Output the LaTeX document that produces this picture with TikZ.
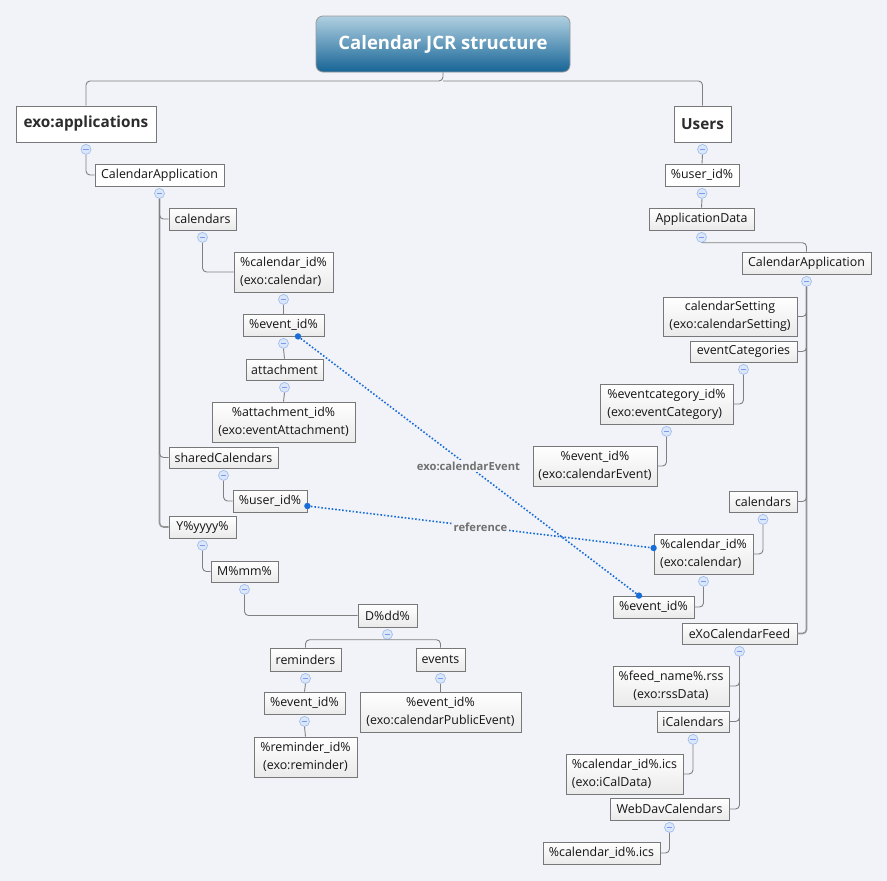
\documentclass[tikz,border=0pt]{standalone}
\usepackage{fontspec}
\setmainfont{Open Sans}
\usetikzlibrary{calc}

\definecolor{bg}{RGB}{242,243,248}
\definecolor{edge}{RGB}{128,128,128}
\definecolor{trunkgray}{RGB}{150,150,150}
\definecolor{boxline}{RGB}{120,120,120}
\definecolor{boxlow}{RGB}{234,234,234}
\definecolor{ink}{RGB}{20,20,20}
\definecolor{linkblue}{RGB}{24,110,214}
\definecolor{lblgray}{RGB}{112,112,112}
\definecolor{mkfill}{RGB}{218,231,250}
\definecolor{mkline}{RGB}{160,190,235}
\definecolor{titletop}{RGB}{176,208,225}
\definecolor{titlelow}{RGB}{22,100,150}

\newcommand{\nf}{\fontsize{12.4}{18}\selectfont}

\begin{document}
\begin{tikzpicture}[x=1pt,y=-1pt,
  box/.style={draw=boxline, line width=0.8pt, inner sep=0pt, text=ink, font=\nf},
  gbox/.style={box, top color=white, bottom color=boxlow},
  wbox/.style={box, fill=white},
  topic/.style={box, fill=white, font=\fontsize{15.3}{18}\selectfont\bfseries, text=ink!90},
  sz/.style 2 args={minimum width=#1pt, minimum height=#2pt},
  conn/.style={draw=edge, line width=0.9pt, rounded corners=4pt},
  trunk/.style={draw=trunkgray, line width=1.6pt, rounded corners=4pt},
  mk/.style={circle, inner sep=0pt, minimum size=10pt, fill=mkfill, draw=mkline, line width=0.7pt,
    path picture={\draw[mkline!80!blue, line width=0.8pt]
      ([xshift=-2.6pt]path picture bounding box.center) -- ([xshift=2.6pt]path picture bounding box.center);}},
  rel/.style={draw=linkblue, line width=1.6pt, dash pattern=on 1.6pt off 1.9pt},
  lbl/.style={fill=bg, inner sep=1.5pt, text=lblgray, font=\fontsize{11.2}{13}\selectfont\bfseries},
  tip/.style={fill=linkblue}
]
\path[use as bounding box, fill=bg] (0,0) rectangle (887,881);

% ---------- central topic ----------
\node[draw=gray!80, line width=0.8pt, rounded corners=7pt, top color=titletop, bottom color=titlelow,
  minimum width=254pt, minimum height=56pt, text=white,
  font=\fontsize{18.5}{22}\selectfont\bfseries] (title) at (443,44) {Calendar JCR structure};

% ---------- main branches ----------
\node[topic, sz={140}{36}] (exoapp) at (86,124) {exo:applications};
\node[topic, sz={57}{36}] (users) at (702.5,124) {Users};

% ---------- exo:applications subtree ----------
\node[wbox, sz={129}{22}] (calappL) at (159.5,175) {CalendarApplication};
\node[gbox, sz={67}{22}] (calsL) at (202.5,219) {calendars};
\node[gbox, sz={99}{40}, align=left] (calidL) at (283.5,272) {\%calendar\_id\%\\(exo:calendar)};
\node[gbox, sz={81}{22}] (evL) at (283.5,325) {\%event\_id\%};
\node[gbox, sz={77}{21}] (att) at (284.5,369.5) {attachment};
\node[gbox, sz={143}{40}, align=center] (attid) at (283.5,422) {\%attachment\_id\%\\(exo:eventAttachment)};
\node[gbox, sz={109}{21}] (shared) at (223.5,457.5) {sharedCalendars};
\node[gbox, sz={74}{22}] (usrL) at (270,501) {\%user\_id\%};
\node[gbox, sz={67}{22}] (yyyy) at (202.5,527) {Y\%yyyy\%};
\node[gbox, sz={67}{21}] (mm) at (244.5,571.5) {M\%mm\%};
\node[gbox, sz={59}{23}] (dd) at (387.5,615.5) {D\%dd\%};
\node[gbox, sz={71}{23}] (rem) at (305.5,659.5) {reminders};
\node[gbox, sz={49}{23}] (events) at (440.5,659.5) {events};
\node[gbox, sz={81}{22}] (evRem) at (304.5,703) {\%event\_id\%};
\node[gbox, sz={103}{40}, align=center] (remid) at (305.5,757) {\%reminder\_id\%\\(exo:reminder)};
\node[gbox, sz={161}{40}, align=center] (evPub) at (440.5,712) {\%event\_id\%\\(exo:calendarPublicEvent)};

% ---------- Users subtree ----------
\node[wbox, sz={74}{22}] (usrR) at (702,175) {\%user\_id\%};
\node[gbox, sz={105}{22}] (appdata) at (701.5,219) {ApplicationData};
\node[gbox, sz={129}{22}] (calappR) at (806.5,263) {CalendarApplication};
\node[gbox, sz={134}{39}, align=center] (calset) at (730,316.5) {calendarSetting\\(exo:calendarSetting)};
\node[gbox, sz={107}{21}] (evcats) at (743.5,351.5) {eventCategories};
\node[gbox, sz={133}{40}, align=left] (evcatid) at (666.5,404) {\%eventcategory\_id\%\\(exo:eventCategory)};
\node[gbox, sz={124}{40}, align=center] (evCal) at (595,466) {\%event\_id\%\\(exo:calendarEvent)};
\node[gbox, sz={68}{21}] (calsR) at (763,501.5) {calendars};
\node[gbox, sz={99}{40}, align=left] (calidR) at (703.5,554) {\%calendar\_id\%\\(exo:calendar)};
\node[gbox, sz={81}{22}] (evR) at (653.5,607) {\%event\_id\%};
\node[gbox, sz={115}{21}] (feed) at (739.5,633.5) {eXoCalendarFeed};
\node[gbox, sz={116}{40}, align=center] (feedname) at (671,686) {\%feed\_name\%.rss\\(exo:rssData)};
\node[gbox, sz={72}{21}] (ical) at (693,721.5) {iCalendars};
\node[gbox, sz={117}{40}, align=left] (icsdata) at (624.5,774) {\%calendar\_id\%.ics\\(exo:iCalData)};
\node[gbox, sz={119}{22}] (webdav) at (669.5,809) {WebDavCalendars};
\node[gbox, sz={117}{22}] (ics) at (601.5,853) {\%calendar\_id\%.ics};

% ---------- connectors from the central topic ----------
\coordinate (tj) at (443,81);
\draw[conn] (title.south) -- (tj) -| (exoapp.north);
\draw[conn] (tj) -| (users.north);

% ---------- collapse markers ----------
\foreach \n in {exoapp,calappL,calsL,calidL,evL,att,shared,yyyy,mm,dd,rem,events,evRem,
                users,usrR,appdata,calappR,evcats,evcatid,calsR,calidR,feed,ical,webdav}
  \node[mk] (m-\n) at ([yshift=-7pt]\n.south) {};

% ---------- left tree connectors ----------
\draw[conn] (m-exoapp.south) |- (calappL.west);
\draw[trunk] (m-calappL.south) |- (yyyy.west);
\draw[conn] (m-calappL.south) |- (calsL.west);
\draw[conn] (m-calappL.south) |- (shared.west);
\draw[conn] (m-calsL.south) |- (calidL.west);
\draw[conn] (m-calidL.south) -- (evL.north);
\draw[conn] (m-evL.south) -- (att.north);
\draw[conn] (m-att.south) -- (attid.north);
\draw[conn] (m-shared.south) |- (usrL.west);
\draw[conn] (m-yyyy.south) |- (mm.west);
\draw[conn] (m-mm.south) |- (dd.west);
\draw[conn] (m-dd.south) -| (rem.north);
\draw[conn] (m-dd.south) -| (events.north);
\draw[conn] (m-rem.south) -- (evRem.north);
\draw[conn] (m-evRem.south) -- (remid.north);
\draw[conn] (m-events.south) -- (evPub.north);

% ---------- right tree connectors ----------
\draw[conn] (m-users.south) -- (usrR.north);
\draw[conn] (m-usrR.south) -- (appdata.north);
\draw[conn] (m-appdata.south) -| (calappR.north);
\draw[trunk] (m-calappR.south) |- (feed.east);
\draw[conn] (m-calappR.south) |- (calset.east);
\draw[conn] (m-calappR.south) |- (evcats.east);
\draw[conn] (m-calappR.south) |- (calsR.east);
\draw[conn] (m-evcats.south) |- (evcatid.east);
\draw[conn] (m-evcatid.south) |- (evCal.east);
\draw[conn] (m-calsR.south) |- (calidR.east);
\draw[conn] (m-calidR.south) |- (evR.east);
\draw[conn] (m-feed.south) |- (webdav.east);
\draw[conn] (m-feed.south) |- (feedname.east);
\draw[conn] (m-feed.south) |- (ical.east);
\draw[conn] (m-ical.south) |- (icsdata.east);
\draw[conn] (m-webdav.south) |- (ics.east);

% ---------- relationship links ----------
\coordinate (ceA) at ([xshift=14.5pt]evL.south);
\coordinate (ceB) at ([xshift=-14.5pt]evR.north);
\coordinate (rfA) at ([yshift=-5pt]usrL.east);
\coordinate (rfB) at ([yshift=6pt]calidR.west);
\draw[rel] (ceA) -- node[lbl] {exo:calendarEvent} (ceB);
\draw[rel] (rfA) -- node[lbl] {reference} (rfB);
\foreach \p in {ceA,ceB,rfA,rfB} \fill[tip] (\p) circle (3.2pt);

\end{tikzpicture}
\end{document}
